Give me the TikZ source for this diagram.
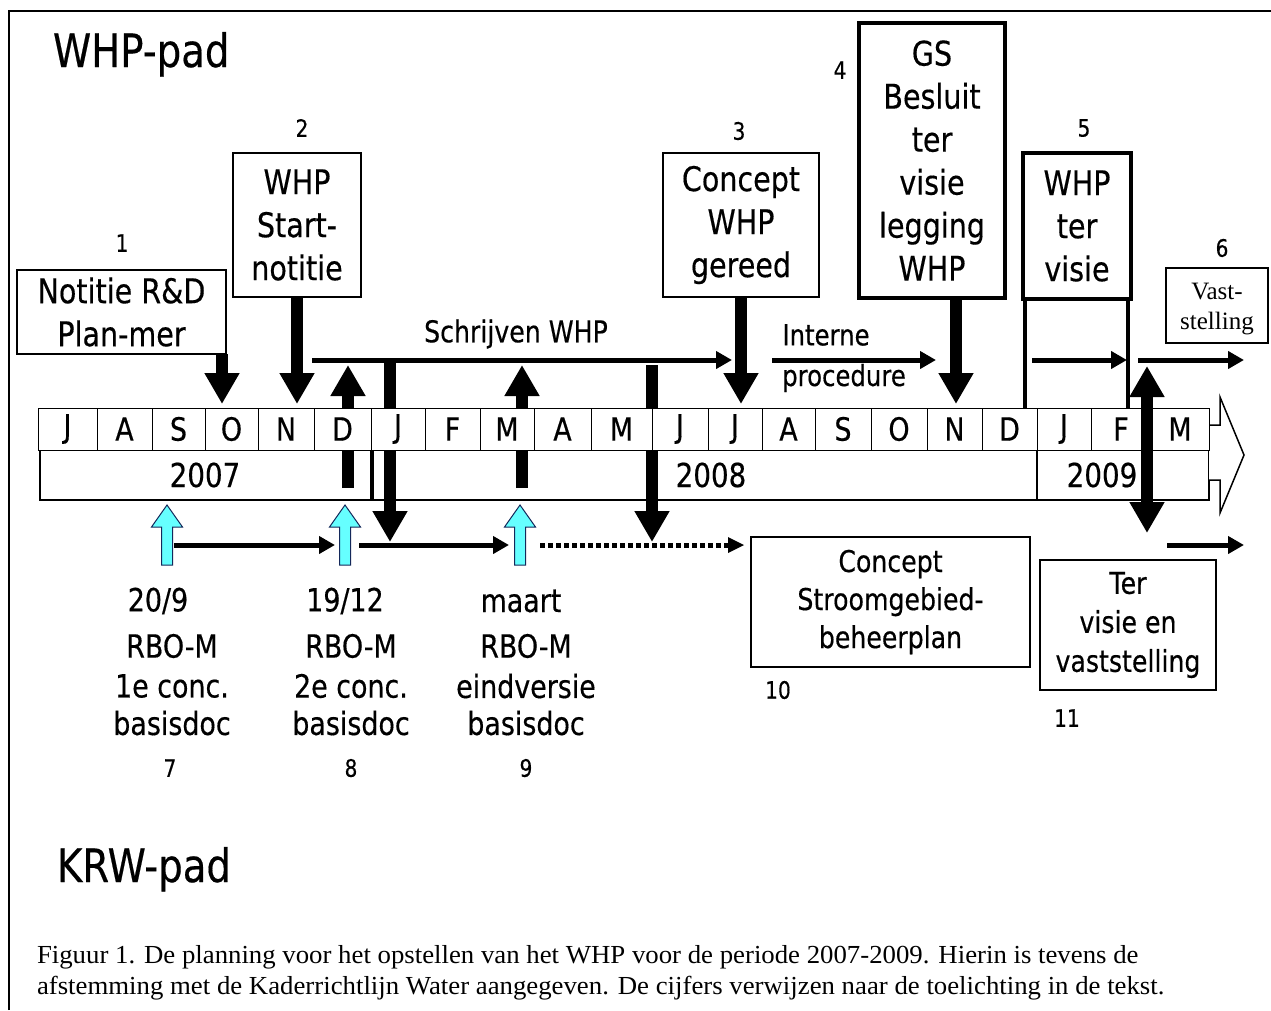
\documentclass[tikz,border=0pt]{standalone}
\usepackage{fontspec}
\setmainfont{DejaVu Sans}[FakeStretch=0.84,FakeBold=0.4]
\newfontfamily\seriffont{Liberation Serif}
\newfontfamily\capfont{Liberation Serif}[FakeStretch=1.03]
\usetikzlibrary{arrows.meta}
\definecolor{aqua}{RGB}{102,255,255}
\definecolor{aqualine}{RGB}{20,40,90}
\newcommand{\fz}[2]{\fontsize{#1pt}{#2pt}\selectfont}
\begin{document}
\begin{tikzpicture}[x=1pt,y=-1pt,
  every node/.style={inner sep=0pt, outer sep=0pt},
  box/.style={draw, line width=1.4pt, fill=white, align=center, font=\fz{34}{43}},
  heavybox/.style={box, line width=4pt},
  bigarr/.style={line width=12pt, -{Triangle[width=33pt,length=31pt]}},
  bigdbl/.style={line width=12pt, {Triangle[width=33pt,length=31pt]}-{Triangle[width=33pt,length=31pt]}},
  thinarr/.style={line width=5pt, -{Triangle[width=17pt,length=16pt]}},
  cell/.style={draw, line width=1pt, fill=white, minimum height=42pt, font=\fz{32}{38}},
  yearcell/.style={draw, line width=1.4pt, minimum height=50pt},
  yeartext/.style={font=\fz{33}{40}},
  num/.style={font=\fz{24}{28}},
  lbl/.style={font=\fz{32}{40}},
  pad/.style={font=\fz{46}{52}, anchor=base west},
  cyanarr/.style={fill=aqua, draw=aqualine, line width=1pt},
]
\useasboundingbox (0,0) rectangle (1271,1010);
% frame
\draw[line width=2pt] (9,1010) -- (9,11) -- (1271,11);

\node[pad] (whp) at (53,67) {WHP-pad};
\node[pad] (krw) at (57,882) {KRW-pad};

% year row
\node[yearcell, minimum width=331pt] (y7) at (205.5,475) {};
\node[yearcell, minimum width=664pt] (y8) at (705,475) {};
\node[yearcell, minimum width=172pt] (y9) at (1123,475) {};
\node[yeartext] (t7) at (205,475) {2007};
\node[yeartext] (t8) at (711,475) {2008};
\node[yeartext] (t9) at (1102,475) {2009};

% hollow arrow at the right end
\fill[white] (1209,425) -- (1220,425) -- (1220,397) -- (1244,455) -- (1220,513) -- (1220,480) -- (1209,480) -- cycle;
\draw[line width=1.5pt, line join=miter] (1209,425) -- (1220,425) -- (1220,397) -- (1244,455) -- (1220,513) -- (1220,480) -- (1209,480);

% arrows passing behind the month row
\coordinate (dU1) at (348,488); \coordinate (dU1t) at (348,365);
\coordinate (jD1) at (390,363); \coordinate (jD1t) at (390,542);
\coordinate (mU1) at (522,488); \coordinate (mU1t) at (522,365);
\coordinate (mD1) at (652,365); \coordinate (mD1t) at (652,542);
\draw[bigarr] (dU1) -- (dU1t);
\draw[bigarr] (jD1) -- (jD1t);
\draw[bigarr] (mU1) -- (mU1t);
\draw[bigarr] (mD1) -- (mD1t);

% month row
\foreach \a/\b/\m [count=\i] in {38/97/J,97/152/A,152/205/S,205/258/O,258/314/N,314/371/D,
  371/425/J,425/480/F,480/534/M,534/591/A,591/652/M,652/708/J,708/762/J,762/815/A,815/871/S,871/927/O,927/982/N,982/1037/D,
  1037/1091/J,1091/1151/F,1151/1209/M}{
  \pgfmathsetmacro\w{\b-\a}
  \pgfmathsetmacro\c{(\a+\b)/2}
  \node[cell, minimum width=\w pt] (m\i) at (\c,429) {\m};
}

% boxes top
\node[box, minimum width=209pt, minimum height=84pt] (b1) at (121.5,312) {Notitie R\&D\\Plan-mer};
\node[box, minimum width=128pt, minimum height=144pt] (b2) at (297,225) {WHP\\Start-\\notitie};
\node[box, minimum width=156pt, minimum height=144pt] (b3) at (741,225) {Concept\\WHP\\gereed};
\node[heavybox, minimum width=146pt, minimum height=275pt] (b4) at (932,160.5) {GS\\Besluit\\ter\\visie\\legging\\WHP};
\node[heavybox, minimum width=108pt, minimum height=146pt] (b5) at (1077,226) {WHP\\ter\\visie};
\node[box, minimum width=102pt, minimum height=75pt] (b6) at (1217,305.5) {};
\node[font=\seriffont\fz{25}{30}, align=center] (b6t) at (1217,309) {Vast-\\stelling};

\node[num] (n1) at (122,243) {1};
\node[num] (n2) at (302,128) {2};
\node[num] (n3) at (739,131) {3};
\node[num] (n4) at (840,70) {4};
\node[num] (n5) at (1084,128) {5};
\node[num] (n6) at (1222,248) {6};

% arrows from boxes
\draw[bigarr] (b1.south -| 222,0) -- (222,404);
\draw[bigarr] (b2.south) -- (297,404);
\draw[bigarr] (b3.south) -- (741,404);
\draw[bigarr] (b4.south -| 956,0) -- (956,404);

% box 5 legs
\draw[line width=3.5pt] (b5.south -| 1025,0) -- (1025,408);
\draw[line width=3.5pt] (b5.south -| 1128,0) -- (1128,408);

% horizontal arrows upper
\draw[thinarr] (312,360) -- (732,360);
\node[font=\fz{30}{36}] (schr) at (516,334) {Schrijven WHP};
\draw[thinarr] (772,360) -- (936,360);
\node[font=\fz{29}{35}] (int) at (826,335) {Interne};
\node[font=\fz{29}{35}] (proc) at (844,378) {procedure};
\draw[thinarr] (1032,360) -- (1127,360);
\draw[thinarr] (1138,360) -- (1244,360);

% double arrow on top
\draw[bigdbl] (1147,366) -- (1147,533);

% cyan arrows
\foreach \x [count=\i] in {167,345,520}{
  \draw[cyanarr] (\x-5.5,565) -- (\x-5.5,527) -- (\x-15.5,527) -- (\x,505) -- (\x+15.5,527) -- (\x+5.5,527) -- (\x+5.5,565) -- cycle;
  \coordinate (c\i) at (\x,545);
}

% lower horizontal arrows
\draw[thinarr] (174,545) -- (335,545);
\draw[thinarr] (359,545) -- (509,545);
\draw[line width=5pt, dash pattern=on 5pt off 3pt] (540,545) -- (730,545);
\fill (728,537) -- (744,545) -- (728,553) -- cycle;
\draw[thinarr] (1167,545) -- (1244,545);

% lower boxes
\node[box, font=\fz{30}{38}, minimum width=279pt, minimum height=130pt] (b10) at (890.5,602) {Concept\\Stroomgebied-\\beheerplan};
\node[box, font=\fz{30}{39}, minimum width=176pt, minimum height=130pt] (b11) at (1128,625) {Ter\\visie en\\vaststelling};
\node[num] (n10) at (778,690) {10};
\node[num] (n11) at (1067,718) {11};

% lower labels
\node[lbl] (l7a) at (158,601) {20/9};
\node[lbl] (l7b) at (172,646) {RBO-M};
\node[lbl] (l7c) at (172,686) {1e conc.};
\node[lbl] (l7d) at (172,723) {basisdoc};
\node[num] (n7) at (170,768) {7};
\node[lbl] (l8a) at (345,601) {19/12};
\node[lbl] (l8b) at (351,646) {RBO-M};
\node[lbl] (l8c) at (351,686) {2e conc.};
\node[lbl] (l8d) at (351,723) {basisdoc};
\node[num] (n8) at (351,768) {8};
\node[lbl] (l9a) at (521,601) {maart};
\node[lbl] (l9b) at (526,646) {RBO-M};
\node[lbl] (l9c) at (526,686) {eindversie};
\node[lbl] (l9d) at (526,723) {basisdoc};
\node[num] (n9) at (526,768) {9};

% caption
\node[anchor=west, font=\capfont\fz{26}{31}] (cap1) at (37,957) {Figuur 1. De planning voor het opstellen van het WHP voor de periode 2007-2009. Hierin is tevens de};
\node[anchor=west, font=\capfont\fz{26}{31}] (cap2) at (37,988) {afstemming met de Kaderrichtlijn Water aangegeven. De cijfers verwijzen naar de toelichting in de tekst.};
\end{tikzpicture}
\end{document}
